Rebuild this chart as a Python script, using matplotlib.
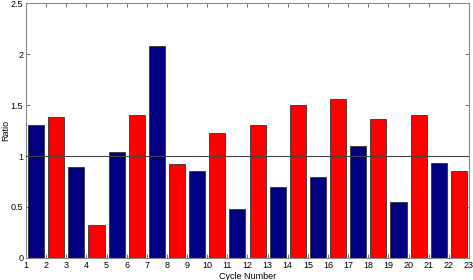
import numpy as np
import matplotlib
matplotlib.use("Agg")
import matplotlib.pyplot as plt

# ---------------- Data ----------------
cycles = list(range(1, 23))
ratios = [1.31, 1.385, 0.895, 0.327, 1.04, 1.40, 2.08, 0.92, 0.856, 1.23, 0.48,
          1.307, 0.70, 1.50, 0.797, 1.56, 1.10, 1.36, 0.55, 1.405, 0.934, 0.856]
tick_labels = [str(i) for i in range(1, 24)]
bar_colors = ["#000080", "#ff0000"]
ref_level = 1.0

plt.rcParams["font.family"] = ["Liberation Sans", "DejaVu Sans"]

fig = plt.figure(figsize=(4.73, 2.80), dpi=100)
ax = fig.add_axes([0.055, 0.079, 0.9365, 0.909])

colors = [bar_colors[i % 2] for i in range(len(cycles))]
ax.bar(np.array(cycles) + 0.5, ratios, width=0.8, color=colors,
       edgecolor="#333333", linewidth=0.6, zorder=2)
ax.axhline(ref_level, color="#444444", linewidth=0.8, zorder=3)

ax.set_xlim(1, 23)
ax.set_ylim(0, 2.5)
ax.set_xticks(range(1, 24))
ax.set_xticklabels(tick_labels)
ax.set_yticks([0, 0.5, 1, 1.5, 2, 2.5])
ax.set_yticklabels(["0", "0.5", "1", "1.5", "2", "2.5"])
ax.tick_params(direction="in", top=True, right=True, labelsize=6.5,
               length=3, width=0.6, color="#555555", pad=2)
for s in ax.spines.values():
    s.set_color("#888888")
    s.set_linewidth(0.8)

ax.set_xlabel("Cycle Number", fontsize=6.5, labelpad=0)
ax.set_ylabel("Ratio", fontsize=6.5, labelpad=0)
ax.xaxis.set_label_coords(0.5, -0.055)
ax.yaxis.set_label_coords(-0.035, 0.5)

fig.savefig("out.png", dpi=100)
